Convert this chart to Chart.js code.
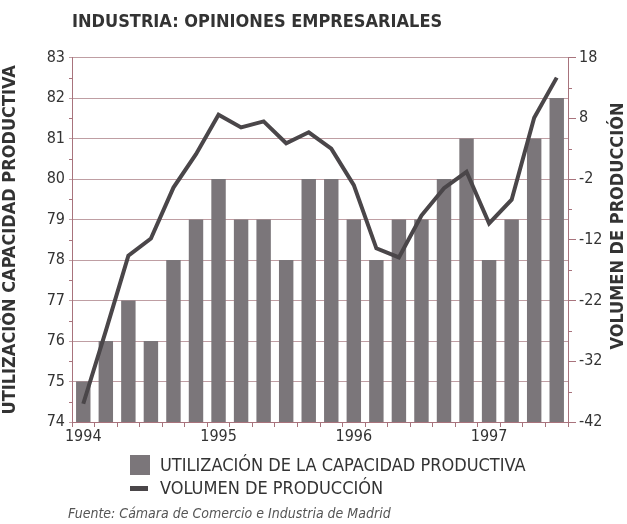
<!DOCTYPE html>
<html>
<head>
<meta charset="utf-8">
<script src="https://cdn.jsdelivr.net/npm/chart.js@4.4.1/dist/chart.umd.min.js"></script>
<style>
    html, body { margin: 0; padding: 0; background: #fff; }
    #contenedor { width: 627px; height: 524px; position: relative; }
</style>
</head>
<body>
<div id="contenedor"><canvas id="opiniones-grafica"></canvas></div>
<script>
// datos bimestrales, ene 1994 - jul 1997
const periodos = [
    'ene 1994','mar 1994','may 1994','jul 1994','sep 1994','nov 1994',
    'ene 1995','mar 1995','may 1995','jul 1995','sep 1995','nov 1995',
    'ene 1996','mar 1996','may 1996','jul 1996','sep 1996','nov 1996',
    'ene 1997','mar 1997','may 1997','jul 1997'
];
const capacidad = [75,76,77,76,78,79,80,79,79,78,80,80,79,78,79,79,80,81,78,79,81,82];
const produccion = [-39,-27,-14.6,-11.8,-3.4,2.1,8.6,6.5,7.5,3.9,5.7,3.0,-3,-13.4,-14.9,-8,-3.5,-0.8,-9.3,-5.4,8.1,14.7];
const etiquetasAnios = {0: '1994', 6: '1995', 12: '1996', 18: '1997'};

(function(){
    const fuente = '"Liberation Sans Narrow", "DejaVu Sans Condensed", Arial, sans-serif';
    const colorBarra = '#7b767a';
    const colorLinea = '#4a4649';
    const colorRejilla = '#bf9ea3';
    const colorEje = '#a8737c';

    // leyenda, fuente, titulo derecho y marcas menores
    const extras = {
        id: 'extras',
        afterDraw(chart) {
            const ctx = chart.ctx;
            const area = chart.chartArea;
            ctx.save();

            // marcas menores en los ejes
            ctx.strokeStyle = colorEje;
            ctx.lineWidth = 1;
            const y = chart.scales.y, y1 = chart.scales.y1;
            for (let v = 74.5; v < 83; v += 1) {
                const p = Math.round(y.getPixelForValue(v)) + 0.5;
                ctx.beginPath(); ctx.moveTo(area.left - 3, p); ctx.lineTo(area.left, p); ctx.stroke();
            }
            for (let v = -37; v < 18; v += 10) {
                const p = Math.round(y1.getPixelForValue(v)) + 0.5;
                ctx.beginPath(); ctx.moveTo(area.right, p); ctx.lineTo(area.right + 4, p); ctx.stroke();
            }

            // titulo del eje derecho, leido de abajo arriba
            ctx.fillStyle = '#333';
            ctx.font = 'bold 18px ' + fuente;
            ctx.textAlign = 'center';
            ctx.textBaseline = 'middle';
            ctx.translate(618, 226);
            ctx.rotate(-Math.PI / 2);
            ctx.fillText('VOLUMEN DE PRODUCCIÓN', 0, 0);
            ctx.setTransform(1, 0, 0, 1, 0, 0);

            ctx.textAlign = 'left';
            ctx.fillStyle = colorBarra;
            ctx.fillRect(130, 455, 20, 20);
            ctx.fillStyle = colorLinea;
            ctx.fillRect(130, 486, 18, 5);
            ctx.fillStyle = '#333';
            ctx.font = '18px ' + fuente;
            ctx.fillText(chart.data.datasets[0].label, 160, 466);
            ctx.fillText(chart.data.datasets[1].label, 160, 489);
            ctx.font = 'italic 14px ' + fuente;
            ctx.fillStyle = '#555';
            ctx.fillText('Fuente: Cámara de Comercio e Industria de Madrid', 68, 514);
            ctx.restore();
        }
    };

    const ctx = document.getElementById('opiniones-grafica');
    new Chart(ctx, {
        data: {
            labels: periodos,
            datasets: [{
                type: 'bar',
                label: 'UTILIZACIÓN DE LA CAPACIDAD PRODUCTIVA',
                data: capacidad,
                yAxisID: 'y',
                backgroundColor: colorBarra,
                categoryPercentage: 1,
                barPercentage: 0.64,
                order: 1
            }, {
                type: 'line',
                label: 'VOLUMEN DE PRODUCCIÓN',
                data: produccion,
                yAxisID: 'y1',
                borderColor: colorLinea,
                borderWidth: 4,
                pointRadius: 0,
                tension: 0,
                order: 0
            }]
        },
        options: {
            responsive: true,
            maintainAspectRatio: false,
            animation: false,
            layout: { padding: 0 },
            scales: {
                x: {
                    offset: true,
                    grid: { display: true, drawOnChartArea: false, tickLength: 5, color: colorEje, offset: true },
                    border: { color: colorEje },
                    ticks: {
                        autoSkip: false,
                        maxRotation: 0,
                        color: '#333',
                        font: { family: fuente, size: 16 },
                        padding: 0,
                        callback: (v, i) => etiquetasAnios[i] || ''
                    },
                    afterFit(scale) { scale.height = 102; }
                },
                y: {
                    position: 'left',
                    min: 74,
                    max: 83,
                    ticks: { stepSize: 1, color: '#333', font: { family: fuente, size: 16 }, padding: 4 },
                    grid: { color: colorRejilla, tickLength: 3 },
                    border: { color: colorEje },
                    title: {
                        display: true,
                        text: 'UTILIZACIÓN CAPACIDAD PRODUCTIVA',
                        color: '#333',
                        font: { family: fuente, size: 18, weight: 'bold' },
                        padding: 0
                    },
                    afterFit(scale) { scale.width = 72; }
                },
                y1: {
                    position: 'right',
                    min: -42,
                    max: 18,
                    ticks: { stepSize: 10, color: '#333', font: { family: fuente, size: 16 }, padding: 3 },
                    grid: { drawOnChartArea: false, tickLength: 8, color: colorEje },
                    border: { color: colorEje },
                    afterFit(scale) { scale.width = 59; }
                }
            },
            plugins: {
                legend: { display: false },
                tooltip: { enabled: false },
                title: {
                    display: true,
                    fullSize: false,
                    text: 'INDUSTRIA: OPINIONES EMPRESARIALES',
                    align: 'start',
                    color: '#333',
                    font: { family: fuente, size: 18, weight: 'bold' },
                    padding: { top: 12, bottom: 24 }
                }
            }
        },
        plugins: [extras]
    });
})();
</script>
</body>
</html>
